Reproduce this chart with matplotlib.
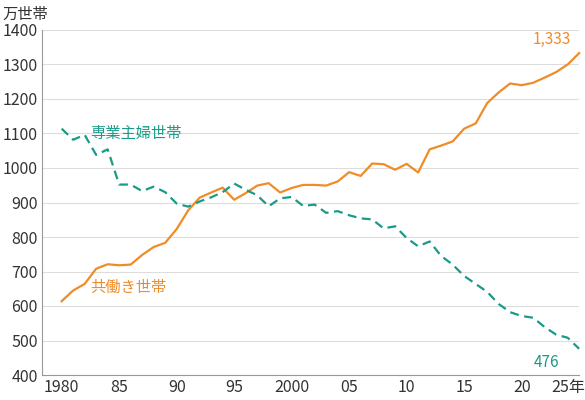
import matplotlib
matplotlib.use("Agg")
import matplotlib.pyplot as plt
import matplotlib.transforms as mtransforms

plt.rcParams['font.family'] = ['Noto Sans CJK JP', 'DejaVu Sans']

years = list(range(1980, 2026))
dual = [614,645,664,708,721,718,720,748,771,783,823,877,914,929,943,908,927,949,956,929,
        942,951,951,949,961,988,977,1013,1011,995,1012,987,1054,1065,1077,1114,1129,1188,1219,1245,
        1240,1247,1262,1278,1300,1333]
housewife = [1114,1082,1096,1038,1054,952,952,933,946,930,897,888,903,915,930,955,937,921,889,912,
             916,890,894,870,875,863,854,851,825,831,797,773,787,745,720,687,664,641,606,582,
             571,566,539,517,508,476]
tick_years = [1980,1985,1990,1995,2000,2005,2010,2015,2020,2025]
tick_labels = ['1980','85','90','95','2000','05','10','15','20','25年']

orange = '#F08C28'
teal = '#1A9A88'

fig = plt.figure(figsize=(5.85, 4), dpi=100)
ax = fig.add_axes([0.072, 0.0625, 0.918, 0.8625])
ax.plot(years, dual, color=orange, lw=1.6, zorder=3, clip_on=False)
ax.plot(years, housewife, color=teal, lw=1.6, ls=(0, (4, 2.5)), zorder=3, clip_on=False)
ax.set_xlim(1978.3, 2025.0)
ax.set_ylim(400, 1400)
ax.set_yticks(range(400, 1401, 100))
ax.set_xticks(tick_years)
ax.set_xticklabels(tick_labels)
ax.tick_params(labelsize=11.5, colors='#333333', length=0, pad=3)
last = ax.get_xticklabels()[-1]
last.set_horizontalalignment('right')
last.set_transform(last.get_transform() + mtransforms.ScaledTranslation(0.06, 0, fig.dpi_scale_trans))
ax.grid(axis='y', color='#DDDDDD', lw=0.8)
for s in ['top', 'right']:
    ax.spines[s].set_visible(False)
for s in ['left', 'bottom']:
    ax.spines[s].set_color('#999999')
ax.set_axisbelow(True)
fig.text(0.005, 0.965, '万世帯', fontsize=11, color='#333333', va='center')
ax.text(1982.5, 1100, '専業主婦世帯', color=teal, fontsize=11, va='center')
ax.text(1982.5, 655, '共働き世帯', color=orange, fontsize=11, va='center')
ax.text(2024.3, 1349, '1,333', color=orange, fontsize=11, ha='right', va='bottom')
ax.text(2023.3, 461, '476', color=teal, fontsize=11, ha='right', va='top')
fig.savefig('out.png', dpi=100)
